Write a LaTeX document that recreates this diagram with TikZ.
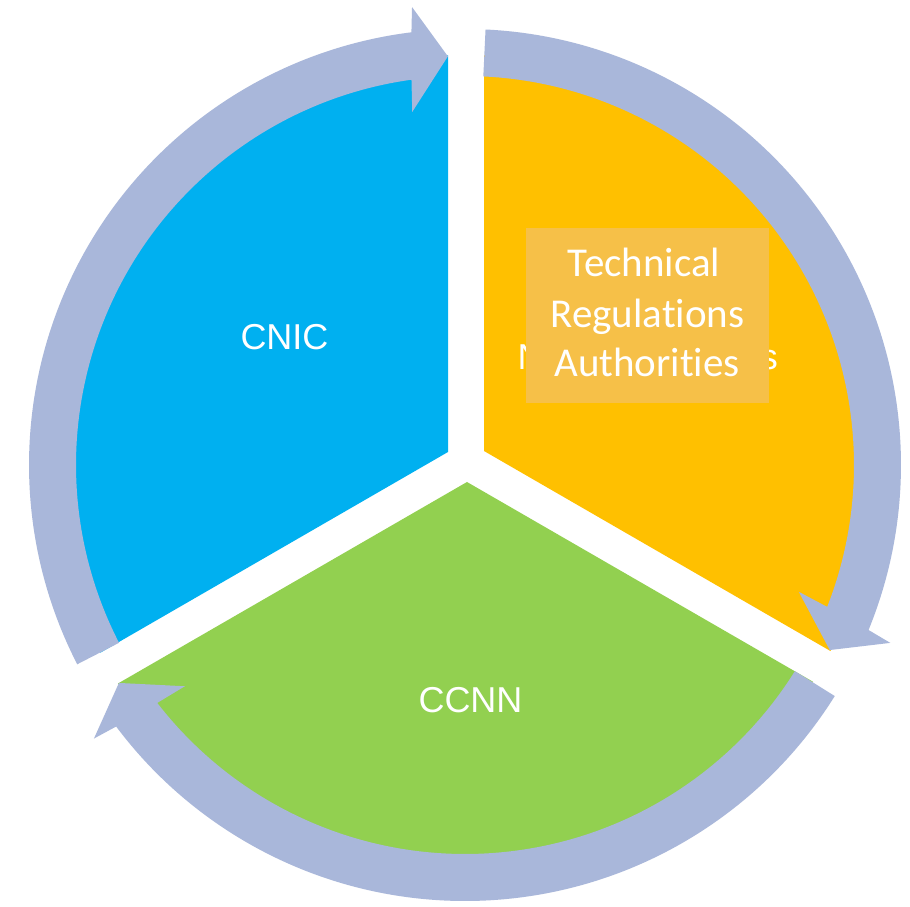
\documentclass[tikz,border=0pt]{standalone}
\usepackage{fontspec}
\setmainfont{Liberation Sans}
\newfontfamily\calfont[Ligatures=NoCommon]{Carlito}
\usetikzlibrary{calc}
\definecolor{cblue}{RGB}{0,176,240}
\definecolor{corange}{RGB}{255,192,0}
\definecolor{cgreen}{RGB}{146,208,80}
\definecolor{cband}{RGB}{169,183,218}
\definecolor{cbox}{RGB}{246,192,72}
\newcommand\bandarrow[2]{%
  \pgfmathsetmacro\aS{#1}\pgfmathsetmacro\aT{#2}%
  \pgfmathsetmacro\aOn{#2+4.66}\pgfmathsetmacro\aOc{#2+4.2}%
  \pgfmathsetmacro\aIc{#2+6.1}\pgfmathsetmacro\aIn{#2+5.51}%
  \fill[cband] ($(C)+(\aS:436)$) arc[start angle=\aS, end angle=\aOn, radius=436]
    -- ($(C)+(\aOc:461)$) -- ($(C)+(\aT:409)$) -- ($(C)+(\aIc:357)$)
    -- ($(C)+(\aIn:389)$) arc[start angle=\aIn, end angle=\aS, radius=389] -- cycle;}
\begin{document}
\begin{tikzpicture}[x=1pt,y=1pt,
  lbl/.style={text=white, inner sep=0pt, font=\fontsize{36}{42}\selectfont},
  boxtxt/.style={text=white, inner sep=0pt, font=\calfont\fontsize{41}{50}\selectfont}]
\useasboundingbox (0,0) rectangle (910,907);
\fill[white] (0,0) rectangle (910,907);
\coordinate (C) at (465,442);
% sectors
\begin{scope}
  \clip (C) circle (410);
  \fill[cblue] (448,455) -- ++(90:470) arc[start angle=90, end angle=210, radius=470] -- cycle;
  \fill[corange] (484,456) -- ++(-30:470) arc[start angle=-30, end angle=90, radius=470] -- cycle;
  \fill[cgreen] (467,425) -- ++(210:470) arc[start angle=210, end angle=330, radius=470] -- cycle;
\end{scope}
% cycle arrows
\bandarrow{207.2}{92.4}
\bandarrow{87.3}{-26.9}
\bandarrow{-32}{-147.8}
% labels
\node[lbl, anchor=base] (cnic) at (284.5,557) {CNIC};
\node[lbl, anchor=base] (ccnn) at (470.5,194) {CCNN};
\node[lbl, anchor=base west] (hidn) at (517.3,537) {N};
\node[lbl, anchor=base east] (hids) at (778,537) {s};
\node[fill=cbox, minimum width=243, minimum height=175, inner sep=0pt] (box) at (647.5,591.5) {};
\node[boxtxt, anchor=base] (t1) at (644,630) {Technical};
\node[boxtxt, anchor=base] (t2) at (647.5,579) {Regulations};
\node[boxtxt, anchor=base] (t3) at (647,530) {Authorities};
\end{tikzpicture}
\end{document}
